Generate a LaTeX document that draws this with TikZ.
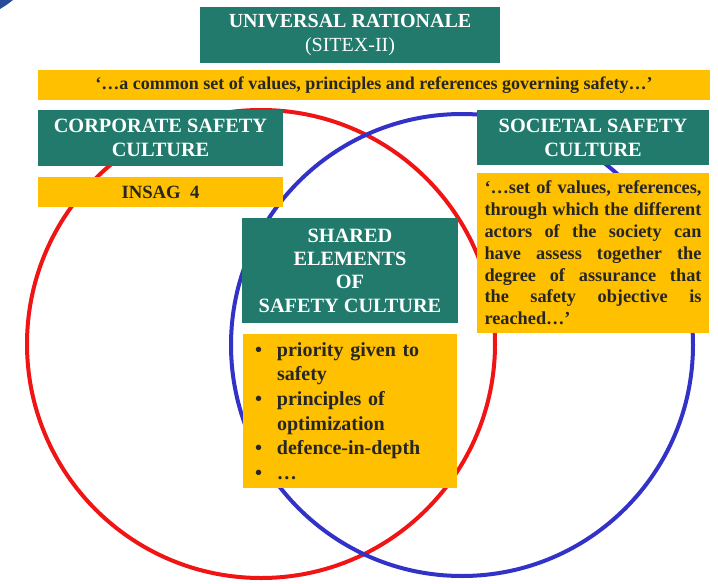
\documentclass[tikz,border=0pt]{standalone}
\usepackage{fontspec}
\setmainfont{Liberation Serif}
\definecolor{tealc}{HTML}{217A6C}
\definecolor{goldc}{HTML}{FFC000}
\definecolor{redc}{HTML}{F01414}
\definecolor{bluec}{HTML}{3232C8}
\definecolor{cornerc}{HTML}{2A4A9A}
\tikzset{
  tealbox/.style={fill=tealc, text=white, inner sep=0pt, align=center,
    font=\fontsize{20.3}{24}\selectfont\bfseries},
  goldbox/.style={fill=goldc, text=black!85, inner sep=0pt, align=center,
    font=\fontsize{18}{21.8}\selectfont\bfseries},
  ring/.style={line width=4pt}
}
\begin{document}
\begin{tikzpicture}[x=1pt,y=-1pt]
\useasboundingbox (0,0) rectangle (718,584);
% corner artifact
\fill[cornerc] (0,0) -- (13,0) .. controls (8,4) .. (0,9) -- cycle;
% circles
\draw[ring, redc] (261,344) circle[radius=234pt];
\draw[ring, bluec] (462,345) circle[radius=231pt];
% title
\node[tealbox, minimum width=300pt, minimum height=56pt,
  font=\fontsize{20}{24}\selectfont\bfseries] (univ) at (350,35)
  {UNIVERSAL RATIONALE\\\mdseries (SITEX-II)};
\node[goldbox, minimum width=672pt, minimum height=30pt] (banner) at (374,85)
  {‘…a common set of values, principles and references governing safety…’};
% corporate
\node[tealbox, minimum width=245pt, minimum height=56pt] (corp) at (160.5,138)
  {CORPORATE SAFETY\\CULTURE};
\node[goldbox, minimum width=245pt, minimum height=30pt] (insag) at (160.5,192)
  {\fontsize{18.7}{20}\selectfont INSAG\ \ 4};
% societal
\node[tealbox, minimum width=232pt, minimum height=55pt] (soc) at (593,137.5)
  {SOCIETAL SAFETY\\CULTURE};
\node[goldbox, minimum width=232pt, minimum height=160pt, align=left,
  font=\fontsize{18.3}{21.8}\selectfont\bfseries] (socq) at (593,253)
  {\makebox[217pt][s]{‘…set of values, references,}\\
   \makebox[217pt][s]{through which the different}\\
   \makebox[217pt][s]{actors of the society can}\\
   \makebox[217pt][s]{have assess together the}\\
   \makebox[217pt][s]{degree of assurance that}\\
   \makebox[217pt][s]{the safety objective is}\\
   \makebox[217pt][l]{reached…’}};
% shared
\node[tealbox, minimum width=216pt, minimum height=105pt,
  font=\fontsize{20.3}{23.3}\selectfont\bfseries] (shared) at (350,270.5)
  {SHARED\\ELEMENTS\\OF\\SAFETY CULTURE};
\node[goldbox, text width=190pt, inner xsep=12pt, minimum height=154pt, align=left,
  font=\fontsize{20}{24.6}\selectfont\bfseries] (list) at (350,411)
  {\makebox[22pt][l]{•}priority given to\\
   \hspace*{22pt}safety\\
   \makebox[22pt][l]{•}principles of\\
   \hspace*{22pt}optimization\\
   \makebox[22pt][l]{•}defence-in-depth\\
   \makebox[22pt][l]{•}…};
\end{tikzpicture}
\end{document}
